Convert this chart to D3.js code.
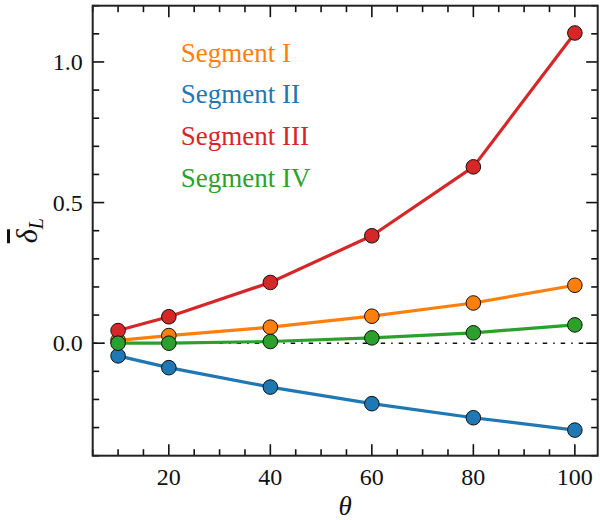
<!DOCTYPE html>
<html>
<head>
<meta charset="utf-8">
<script src="https://cdn.jsdelivr.net/npm/d3@7"></script>
</head>
<body style="margin:0">
<svg id="chart" width="600" height="520"></svg>
<script>
// Rotation angle values on the x axis
const theta = [10, 20, 40, 60, 80, 100];

// Mean normalised deflection per segment
const segmentNames = ["Segment I", "Segment II", "Segment III", "Segment IV"];
const segmentI   = [0.010, 0.027, 0.057, 0.096, 0.143, 0.206];
const segmentII  = [-0.045, -0.087, -0.156, -0.215, -0.265, -0.309];
const segmentIII = [0.045, 0.094, 0.216, 0.382, 0.627, 1.103];
const segmentIV  = [0.000, 0.000, 0.006, 0.019, 0.037, 0.065];
const segmentColors = ["#ff7f0e", "#1f77b4", "#d62728", "#2ca02c"];

// Axis ticks
const xMajorTicks = [20, 40, 60, 80, 100];
const yMajorTicks = [0.0, 0.5, 1.0];

const FONT = '"Liberation Serif"';

const series = [segmentI, segmentII, segmentIII, segmentIV].map((vals, i) => ({
  name: segmentNames[i],
  color: segmentColors[i],
  points: theta.map((t, j) => ({ x: t, y: vals[j] }))
}));

const W = 600, H = 520;
const margin = { left: 92.7, right: 2.3, top: 5.7, bottom: 64.3 };
const iw = W - margin.left - margin.right;
const ih = H - margin.top - margin.bottom;

const svg = d3.select("#chart").style("display", "block");
const g = svg.append("g").attr("transform", `translate(${margin.left},${margin.top})`);

const x = d3.scaleLinear().domain([5, 104.5]).range([0, iw]);
const y = d3.scaleLinear().domain([-0.4, 1.2]).range([ih, 0]);

const xMinor = d3.range(5, 105, 5).filter(v => !xMajorTicks.includes(v));
const yMinor = d3.range(-4, 12.01, 1).map(v => Math.round(v) / 10).filter(v => !yMajorTicks.includes(v));

const majorLen = 11.5, minorLen = 6.5;

// Reference line at zero
g.append("line")
  .attr("x1", 0).attr("x2", iw)
  .attr("y1", y(0)).attr("y2", y(0))
  .attr("stroke", "#111").attr("stroke-width", 1.6)
  .attr("stroke-dasharray", "4.5,6,1.5,6");

// Lines and markers
const line = d3.line().x(d => x(d.x)).y(d => y(d.y));
series.forEach(s => {
  const sg = g.append("g");
  sg.append("path")
    .datum(s.points)
    .attr("d", line)
    .attr("fill", "none")
    .attr("stroke", s.color)
    .attr("stroke-width", 3.2)
    .attr("stroke-linejoin", "round");
  sg.selectAll("circle")
    .data(s.points)
    .join("circle")
    .attr("cx", d => x(d.x))
    .attr("cy", d => y(d.y))
    .attr("r", 7.3)
    .attr("fill", s.color)
    .attr("stroke", "#111")
    .attr("stroke-width", 1);
});

// Inward ticks on all four sides
const tickG = g.append("g").attr("stroke", "#111").attr("stroke-width", 1.6);
function xTicks(vals, len) {
  vals.forEach(v => {
    tickG.append("line").attr("x1", x(v)).attr("x2", x(v)).attr("y1", ih).attr("y2", ih - len);
    tickG.append("line").attr("x1", x(v)).attr("x2", x(v)).attr("y1", 0).attr("y2", len);
  });
}
function yTicks(vals, len) {
  vals.forEach(v => {
    tickG.append("line").attr("y1", y(v)).attr("y2", y(v)).attr("x1", 0).attr("x2", len);
    tickG.append("line").attr("y1", y(v)).attr("y2", y(v)).attr("x1", iw).attr("x2", iw - len);
  });
}
xTicks(xMajorTicks, majorLen);
xTicks(xMinor, minorLen);
yTicks(yMajorTicks, majorLen);
yTicks(yMinor, minorLen);

// Frame
g.append("rect")
  .attr("x", 0).attr("y", 0).attr("width", iw).attr("height", ih)
  .attr("fill", "none").attr("stroke", "#222").attr("stroke-width", 2);

// Tick labels
g.selectAll(".xlab")
  .data(xMajorTicks)
  .join("text")
  .attr("class", "xlab")
  .style("font-family", FONT)
  .attr("font-size", 24)
  .attr("x", d => x(d))
  .attr("y", ih + 29.5)
  .attr("text-anchor", "middle")
  .attr("fill", "#111")
  .text(d => d3.format("d")(d));

g.selectAll(".ylab")
  .data(yMajorTicks)
  .join("text")
  .attr("class", "ylab")
  .style("font-family", FONT)
  .attr("font-size", 24)
  .attr("x", -10)
  .attr("y", d => y(d) + 8)
  .attr("text-anchor", "end")
  .attr("fill", "#111")
  .text(d => d3.format(".1f")(d));

// Axis titles
svg.append("text")
  .style("font-family", FONT)
  .attr("font-size", 27)
  .attr("font-style", "italic")
  .attr("x", margin.left + iw / 2)
  .attr("y", 515)
  .attr("text-anchor", "middle")
  .attr("fill", "#111")
  .text("θ");

const yt = svg.append("text")
  .style("font-family", FONT)
  .attr("font-size", 30)
  .attr("font-style", "italic")
  .attr("transform", `translate(37,${margin.top + ih / 2}) rotate(-90)`)
  .attr("text-anchor", "middle")
  .attr("fill", "#111");
yt.append("tspan").attr("text-decoration", "overline").text("δ");
yt.append("tspan").attr("font-size", 20).attr("dy", 6).text("L");

// Legend as coloured labels
g.selectAll(".leg")
  .data(series)
  .join("text")
  .attr("class", "leg")
  .style("font-family", FONT)
  .attr("font-size", 27)
  .attr("x", 88)
  .attr("y", (d, i) => 56 + i * 41.7)
  .attr("fill", d => d.color)
  .text(d => d.name);
</script>
</body>
</html>
